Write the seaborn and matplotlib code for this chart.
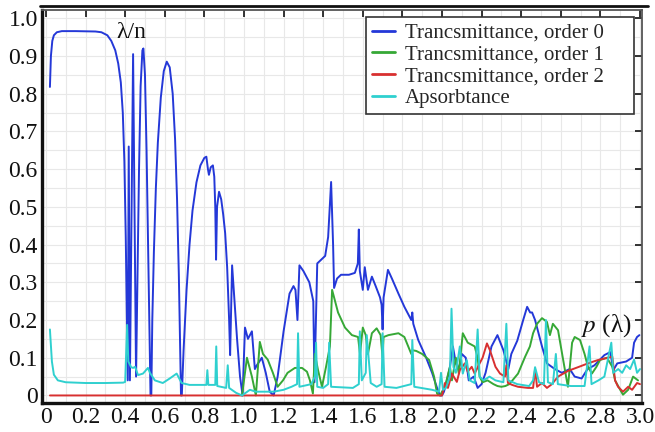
import matplotlib
matplotlib.use("Agg")
import matplotlib.pyplot as plt
from matplotlib.lines import Line2D
from matplotlib.ticker import MultipleLocator, FixedLocator, FixedFormatter
import numpy as np
import pandas as pd
import seaborn as sns

# ---- spectra: relative period p/lambda vs. efficiency ----
order0_x = [0.02, 0.025, 0.032, 0.04, 0.055, 0.08, 0.15, 0.25, 0.28, 0.31, 0.33, 0.35,
            0.365, 0.378, 0.388, 0.396, 0.403, 0.41, 0.413,
            0.418, 0.424, 0.44, 0.455, 0.462, 0.47, 0.478, 0.487, 0.492, 0.50, 0.508,
            0.515, 0.522, 0.528,
            0.532, 0.537, 0.545, 0.555, 0.565, 0.58, 0.595, 0.61, 0.625, 0.64, 0.652,
            0.662, 0.671, 0.677, 0.682,
            0.686, 0.695, 0.71, 0.725, 0.74, 0.76, 0.78, 0.80, 0.81, 0.818, 0.823, 0.832,
            0.843, 0.85, 0.855, 0.859, 0.864, 0.874, 0.885, 0.895, 0.905, 0.915, 0.925,
            0.93, 0.94, 0.955, 0.965, 0.98, 0.993,
            1.005, 1.02, 1.04, 1.055, 1.065, 1.09, 1.11, 1.13, 1.15,
            1.17, 1.20, 1.215, 1.23, 1.25, 1.26, 1.27, 1.275, 1.28, 1.30, 1.33, 1.35, 1.356,
            1.37, 1.39, 1.41, 1.425, 1.44, 1.45, 1.455, 1.47, 1.49, 1.53, 1.56, 1.575,
            1.58, 1.585, 1.60, 1.61, 1.626, 1.646, 1.665, 1.687, 1.695, 1.70, 1.705, 1.727,
            1.747, 1.78, 1.81, 1.845, 1.85, 1.855, 1.88, 1.92, 1.95, 1.975, 1.99,
            2.0, 2.01, 2.025, 2.04, 2.055, 2.07, 2.085, 2.10, 2.12, 2.135, 2.16, 2.18, 2.20,
            2.22, 2.25, 2.28, 2.31, 2.335, 2.35, 2.38, 2.41, 2.43, 2.445, 2.455, 2.47,
            2.505, 2.53, 2.57, 2.605, 2.645, 2.67, 2.705, 2.735, 2.77, 2.82, 2.85, 2.865,
            2.885, 2.93, 2.96, 2.97, 2.985, 2.997]
order0_y = [0.818, 0.90, 0.94, 0.955, 0.963, 0.966, 0.966, 0.965, 0.963, 0.955, 0.94, 0.915,
            0.88, 0.83, 0.75, 0.62, 0.42, 0.15, 0.04,
            0.66, 0.04, 0.905, 0.05, 0.30, 0.60, 0.82, 0.915, 0.92, 0.85, 0.65,
            0.42, 0.18, 0.0,
            0.0, 0.2, 0.38, 0.55, 0.67, 0.79, 0.86, 0.885, 0.87, 0.80, 0.68,
            0.52, 0.32, 0.15, 0.0,
            0.0, 0.12, 0.28, 0.40, 0.49, 0.565, 0.61, 0.63, 0.633, 0.60, 0.585, 0.605,
            0.61, 0.58, 0.50, 0.36, 0.50, 0.54, 0.52, 0.48, 0.43, 0.34, 0.20,
            0.107, 0.345, 0.23, 0.15, 0.05, 0.0,
            0.18, 0.15, 0.17, 0.07, 0.08, 0.10, 0.06, 0.01, 0.0,
            0.05, 0.17, 0.22, 0.27, 0.29, 0.28, 0.20, 0.27, 0.345, 0.33, 0.30, 0.25, 0.035,
            0.35, 0.36, 0.37, 0.42, 0.566, 0.40, 0.285, 0.31, 0.32, 0.32, 0.325, 0.35,
            0.44, 0.33, 0.28, 0.34, 0.28, 0.315, 0.29, 0.26, 0.24, 0.175, 0.26, 0.333,
            0.31, 0.27, 0.235, 0.20, 0.22, 0.19, 0.147, 0.10, 0.06, 0.02, 0.0,
            0.0, 0.01, 0.04, 0.075, 0.13, 0.085, 0.07, 0.11, 0.10, 0.04, 0.05, 0.02, 0.03,
            0.06, 0.13, 0.16, 0.12, 0.07, 0.11, 0.145, 0.20, 0.235, 0.22, 0.22, 0.20,
            0.13, 0.085, 0.07, 0.06, 0.07, 0.05, 0.045, 0.07, 0.08, 0.107, 0.115, 0.067,
            0.085, 0.09, 0.10, 0.14, 0.155, 0.16]

order1_x = [0.99, 1.015, 1.04, 1.06, 1.08, 1.096, 1.12, 1.146, 1.17, 1.197, 1.22,
            1.257, 1.293, 1.318, 1.333, 1.348, 1.358, 1.374, 1.394, 1.414, 1.434, 1.445,
            1.475, 1.51, 1.545, 1.576, 1.586, 1.60, 1.615, 1.626, 1.646, 1.67, 1.69, 1.70,
            1.705, 1.73, 1.78, 1.81, 1.845, 1.85, 1.87, 1.90, 1.935, 1.96, 1.975, 1.99,
            2.0, 2.015, 2.04, 2.05, 2.07, 2.085, 2.105, 2.13, 2.165, 2.18, 2.19, 2.205,
            2.23, 2.26, 2.28, 2.30, 2.32, 2.34, 2.384, 2.42, 2.444, 2.46, 2.48, 2.505,
            2.53, 2.545, 2.56, 2.586, 2.61, 2.63, 2.636, 2.657, 2.67, 2.697, 2.72, 2.737,
            2.757, 2.78, 2.798, 2.833, 2.86, 2.874, 2.90, 2.914, 2.94, 2.965, 2.99]
order1_y = [0.0, 0.10, 0.05, 0.0, 0.142, 0.11, 0.095, 0.06, 0.023, 0.04, 0.06,
            0.073, 0.073, 0.063, 0.04, 0.005, 0.11, 0.067, 0.023, 0.075, 0.13, 0.28,
            0.22, 0.18, 0.16, 0.155, 0.11, 0.18, 0.16, 0.11, 0.165, 0.178, 0.16, 0.10,
            0.155, 0.16, 0.165, 0.155, 0.11, 0.12, 0.118, 0.11, 0.094, 0.05, 0.005, 0.0,
            0.01, 0.023, 0.076, 0.04, 0.10, 0.058, 0.165, 0.14, 0.13, 0.10, 0.05, 0.035,
            0.04, 0.03, 0.025, 0.023, 0.025, 0.03, 0.058, 0.103, 0.13, 0.165, 0.19, 0.205,
            0.195, 0.16, 0.19, 0.173, 0.10, 0.04, 0.023, 0.14, 0.155, 0.147, 0.11, 0.076,
            0.058, 0.076, 0.094, 0.10, 0.076, 0.04, 0.015, 0.002, 0.015, 0.05, 0.04]

order2_x = [0.02, 2.0, 2.015, 2.03, 2.05, 2.075, 2.09, 2.115, 2.13, 2.15, 2.165, 2.19,
            2.205, 2.227, 2.242, 2.27, 2.293, 2.318, 2.325, 2.333, 2.354, 2.384, 2.434,
            2.46, 2.47, 2.48, 2.505, 2.53, 2.555, 2.586, 2.636, 2.687, 2.737, 2.788,
            2.838, 2.86, 2.874, 2.889, 2.914, 2.94, 2.96, 2.985, 3.0]
order2_y = [0.0, 0.0, 0.033, 0.02, 0.058, 0.036, 0.067, 0.085, 0.063, 0.076, 0.058, 0.085,
            0.10, 0.138, 0.12, 0.076, 0.058, 0.05, 0.08, 0.033, 0.028, 0.023, 0.02,
            0.02, 0.07, 0.023, 0.033, 0.02, 0.03, 0.05, 0.065, 0.075, 0.085, 0.094,
            0.10, 0.103, 0.04, 0.023, 0.01, 0.023, 0.015, 0.033, 0.03]

absorb_x = [0.02, 0.03, 0.04, 0.06, 0.10, 0.20, 0.30, 0.39, 0.40, 0.41, 0.416, 0.43, 0.44,
            0.45, 0.465, 0.49, 0.515, 0.525, 0.55, 0.59, 0.625, 0.66, 0.685, 0.725,
            0.81, 0.815, 0.82, 0.855, 0.86, 0.865, 0.91, 0.918, 0.925, 0.96, 0.99,
            1.03, 1.06, 1.15, 1.20, 1.24, 1.268, 1.273, 1.28, 1.34, 1.358, 1.364, 1.37,
            1.40, 1.425, 1.43, 1.44, 1.55, 1.58, 1.585, 1.595, 1.615, 1.62, 1.64, 1.67,
            1.695, 1.70, 1.71, 1.77, 1.845, 1.85, 1.86, 1.95, 1.985, 1.995, 2.005, 2.02,
            2.04, 2.048, 2.058, 2.07, 2.09, 2.105, 2.125, 2.14, 2.165, 2.18, 2.19, 2.21,
            2.24, 2.27, 2.31, 2.325, 2.335, 2.38, 2.44, 2.46, 2.47, 2.49, 2.515, 2.525,
            2.535, 2.56, 2.575, 2.585, 2.65, 2.72, 2.745, 2.755, 2.79, 2.82, 2.855, 2.865,
            2.89, 2.91, 2.93, 2.95, 2.97, 2.985, 3.0]
absorb_y = [0.175, 0.09, 0.055, 0.04, 0.035, 0.033, 0.033, 0.034, 0.036, 0.187, 0.09, 0.075,
            0.073, 0.076, 0.054, 0.058, 0.073, 0.06, 0.04, 0.033, 0.045, 0.058, 0.033, 0.028,
            0.028, 0.067, 0.028, 0.028, 0.13, 0.025, 0.02, 0.08, 0.02, 0.007, 0.0,
            0.015, 0.01, 0.01, 0.015, 0.023, 0.03, 0.165, 0.023, 0.03, 0.05, 0.14, 0.023,
            0.02, 0.03, 0.14, 0.023, 0.02, 0.03, 0.17, 0.04, 0.06, 0.16, 0.033, 0.023,
            0.03, 0.165, 0.023, 0.02, 0.03, 0.147, 0.023, 0.015, 0.01, 0.06, 0.015, 0.02,
            0.05, 0.23, 0.075, 0.06, 0.13, 0.058, 0.094, 0.04, 0.033, 0.175, 0.05, 0.04,
            0.05, 0.04, 0.035, 0.19, 0.04, 0.03, 0.025, 0.04, 0.075, 0.035, 0.03, 0.2,
            0.035, 0.03, 0.11, 0.03, 0.025, 0.025, 0.13, 0.03, 0.04, 0.05, 0.14, 0.06,
            0.07, 0.06, 0.08, 0.07, 0.095, 0.06, 0.07]

series_names = ["Trancsmittance, order 0", "Trancsmittance, order 1",
                "Trancsmittance, order 2", "Apsorbtance"]
series_colors = ["#2438d8", "#36a836", "#d83030", "#2fd0cf"]

x_ticks = [0, 0.2, 0.4, 0.6, 0.8, 1.0, 1.2, 1.4, 1.6, 1.8, 2.0, 2.2, 2.4, 2.6, 2.8, 3.0]
x_tick_labels = ["0", "0.2", "0.4", "0.6", "0.8", "1.0", "1.2", "1.4", "1.6", "1.8",
                 "2.0", "2.2", "2.4", "2.6", "2.8", "3.0"]
y_ticks = [0, 0.1, 0.2, 0.3, 0.4, 0.5, 0.6, 0.7, 0.8, 0.9, 1.0]
y_tick_labels = ["0", "0.1", "0.2", "0.3", "0.4", "0.5", "0.6", "0.7", "0.8", "0.9", "1.0"]

frames = []
for name, xs, ys in zip(series_names,
                        [order0_x, order1_x, order2_x, absorb_x],
                        [order0_y, order1_y, order2_y, absorb_y]):
    frames.append(pd.DataFrame({"p": xs, "value": ys, "series": name}))
data = pd.concat(frames, ignore_index=True)

sns.set_theme(style="white")
plt.rcParams["font.family"] = ["Liberation Serif", "DejaVu Serif"]
plt.rcParams["mathtext.fontset"] = "stix"

fig = plt.figure(figsize=(6.55, 4.32), dpi=100)
ax = fig.add_axes([42 / 655, 1 - 403 / 432, 600 / 655, 393 / 432])

sns.lineplot(data=data, x="p", y="value", hue="series", hue_order=series_names,
             palette=dict(zip(series_names, series_colors)), estimator=None,
             sort=False, units="series", linewidth=1.4, ax=ax)

# keep the drawing order of the legend: order 0, 1, 2, absorbance on top
for z, line in enumerate(ax.get_lines()[:len(series_names)]):
    line.set_zorder(2 + z * 0.1)

ax.set_xlim(-0.02, 3.01)
ax.set_ylim(-0.02, 1.022)
ax.set_xlabel("")
ax.set_ylabel("")

ax.xaxis.set_major_locator(FixedLocator(x_ticks))
ax.xaxis.set_major_formatter(FixedFormatter(x_tick_labels))
ax.yaxis.set_major_locator(FixedLocator(y_ticks))
ax.yaxis.set_major_formatter(FixedFormatter(y_tick_labels))
ax.xaxis.set_minor_locator(MultipleLocator(0.1))
ax.yaxis.set_minor_locator(MultipleLocator(0.05))
ax.grid(True, which="both", color="#e8e8e8", linewidth=0.8)
ax.set_axisbelow(True)

ax.tick_params(which="major", direction="in", length=5, width=1.2, top=True, right=True,
               labelsize=17, colors="#111111", pad=3)
ax.tick_params(which="minor", length=0)

for side in ["left", "bottom"]:
    ax.spines[side].set_color("#111111")
    ax.spines[side].set_linewidth(2.4)
for side in ["top", "right"]:
    ax.spines[side].set_color("#555555")
    ax.spines[side].set_linewidth(1.3)

leg = ax.legend(loc="upper left", bbox_to_anchor=(0.54, 0.5, 0.447, 0.482), mode="expand",
                fontsize=15, frameon=True, fancybox=False, edgecolor="#333333",
                framealpha=1, handlelength=1.1, handletextpad=0.45, labelspacing=0.1,
                borderpad=0.3, borderaxespad=0)
leg.get_frame().set_linewidth(1.2)
for line in leg.get_lines():
    line.set_linewidth(2.0)

ax.text(0.43, 0.962, "λ/n", fontsize=17, ha="center", va="center", color="#111111")
ax.text(2.83, 0.184, r"$p$ (λ)", fontsize=18, ha="center", va="center", color="#111111")

# rule above the plot frame
fig.add_artist(Line2D([40 / 655, 648 / 655], [1 - 5.5 / 432, 1 - 5.5 / 432],
                      color="#111111", linewidth=2.0))

fig.savefig("out.png", dpi=100)
